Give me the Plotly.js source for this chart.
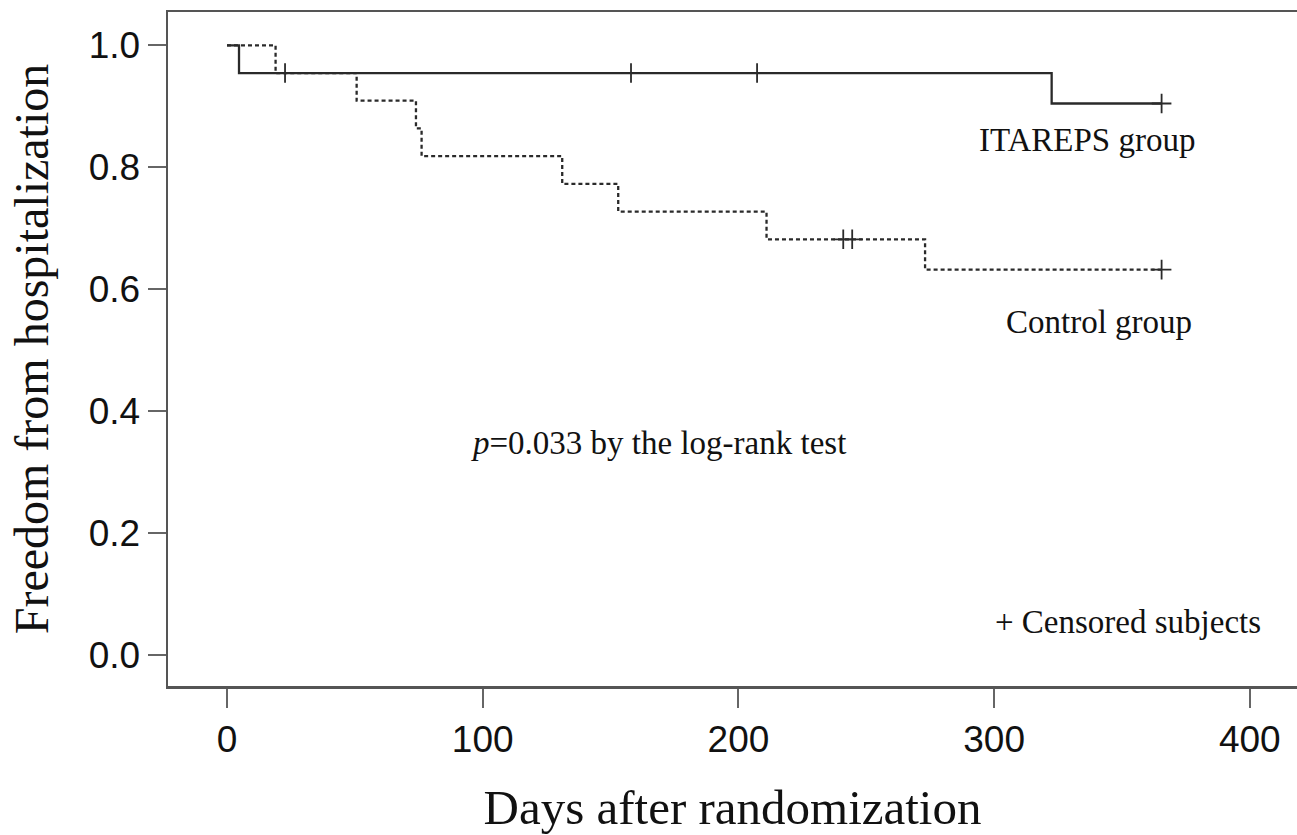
<!DOCTYPE html>
<html>
<head>
<meta charset="utf-8">
<script src="https://cdn.plot.ly/plotly-3.0.1.min.js"></script>
<style>html,body{margin:0;padding:0;background:#fff;overflow:hidden}#chart{width:1297px;height:835px}</style>
</head>
<body>
<div id="chart"></div>
<script>
// ITAREPS group (solid)
const itarepsTime = [0, 4.7, 322.5, 365.5];
const itarepsSurv = [1.0, 0.9545, 0.9045, 0.9045];
const itarepsCensorTime = [22.7, 158, 207.3, 365.5];
const itarepsCensorSurv = [0.9545, 0.9545, 0.9545, 0.9045];

// Control group (dashed)
const controlTime = [0, 19, 50.7, 73.9, 76.1, 131.1, 153, 211, 273, 365.5];
const controlSurv = [1.0, 0.9545, 0.9091, 0.8636, 0.8182, 0.7727, 0.7273, 0.6818, 0.632, 0.632];
const controlCensorTime = [241, 244.5, 365.5];
const controlCensorSurv = [0.6818, 0.6818, 0.632];

const xTicks = [0, 100, 200, 300, 400];
const yTicks = [0.0, 0.2, 0.4, 0.6, 0.8, 1.0];
const yTickText = ["0.0", "0.2", "0.4", "0.6", "0.8", "1.0"];

const lineColor = '#2a2a2a';
const textColor = '#111111';
const serif = '"Liberation Serif", "Times New Roman", serif';
const sans = '"Liberation Sans", Arial, sans-serif';

const traces = [
  {x: controlTime, y: controlSurv, mode: 'lines', line: {shape: 'hv', color: lineColor, width: 2.3, dash: '4px,3px'}, hoverinfo: 'skip'},
  {x: itarepsTime, y: itarepsSurv, mode: 'lines', line: {shape: 'hv', color: lineColor, width: 2.3}, hoverinfo: 'skip'},
  {x: itarepsCensorTime, y: itarepsCensorSurv, mode: 'markers', marker: {symbol: 'cross-thin', size: 14, line: {color: lineColor, width: 1.8}}, hoverinfo: 'skip'},
  {x: controlCensorTime, y: controlCensorSurv, mode: 'markers', marker: {symbol: 'cross-thin', size: 14, line: {color: lineColor, width: 1.8}}, hoverinfo: 'skip'}
];

const layout = {
  width: 1297, height: 835,
  margin: {l: 168, r: 0, t: 12, b: 149},
  paper_bgcolor: '#fff', plot_bgcolor: '#fff',
  showlegend: false,
  xaxis: {
    range: [-23.07, 418.45], tickvals: xTicks, ticktext: xTicks.map(String),
    showgrid: false, zeroline: false,
    showline: true, mirror: true, linecolor: '#555', linewidth: 2.5,
    ticks: 'outside', ticklen: 19, tickwidth: 2, tickcolor: '#666',
    tickfont: {family: sans, size: 37, color: textColor},
    title: {text: 'Days after randomization', font: {family: serif, size: 49, color: textColor}, standoff: 34}
  },
  yaxis: {
    range: [-0.0508, 1.0546], tickvals: yTicks, ticktext: yTickText,
    showgrid: false, zeroline: false,
    showline: true, mirror: false, linecolor: '#555', linewidth: 2.5,
    ticks: 'outside', ticklen: 18, tickwidth: 2, tickcolor: '#666',
    tickfont: {family: sans, size: 37, color: textColor},
    title: {text: 'Freedom from hospitalization', font: {family: serif, size: 48, color: textColor}, standoff: 25}
  },
  annotations: [
    {x: 336.3, y: 0.844, xref: 'x', yref: 'y', text: 'ITAREPS group', showarrow: false, font: {family: serif, size: 33, color: textColor}},
    {x: 341, y: 0.546, xref: 'x', yref: 'y', text: 'Control group', showarrow: false, font: {family: serif, size: 33, color: textColor}},
    {x: 168.6, y: 0.3475, xref: 'x', yref: 'y', text: '<i>p</i>=0.033 by the log-rank test', showarrow: false, font: {family: serif, size: 33, color: textColor}},
    {x: 352.4, y: 0.054, xref: 'x', yref: 'y', text: '+ Censored subjects', showarrow: false, font: {family: serif, size: 33, color: textColor}}
  ]
};

Plotly.newPlot('chart', traces, layout, {staticPlot: true, displayModeBar: false});
</script>
</body>
</html>
